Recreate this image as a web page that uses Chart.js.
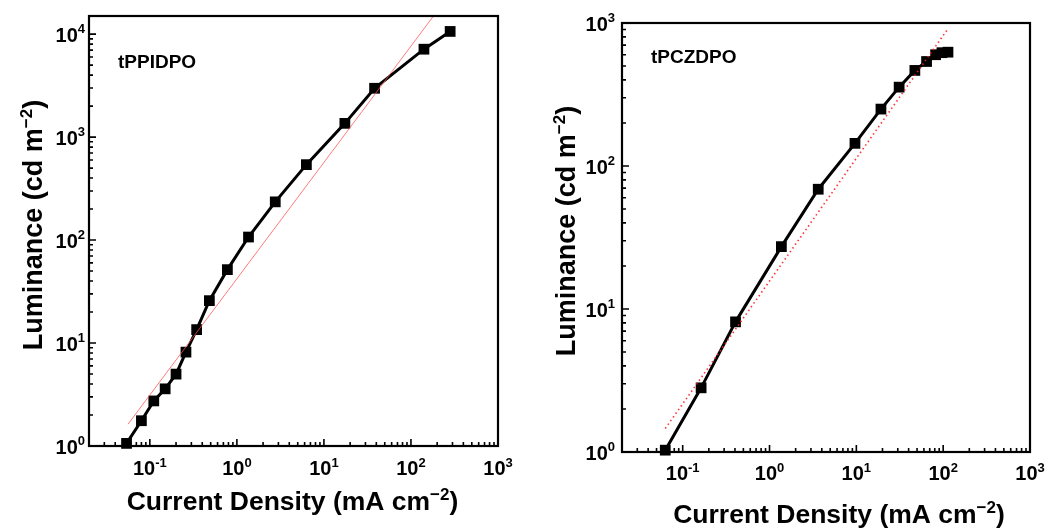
<!DOCTYPE html>
<html>
<head>
<meta charset="utf-8">
<script src="https://cdn.jsdelivr.net/npm/chart.js@4.4.1/dist/chart.umd.min.js"></script>
<style>
  html, body { margin: 0; padding: 0; background: #fff; }
  .panel { position: absolute; top: 0; height: 530px; }
</style>
</head>
<body>
<div class="panel" style="left:0;width:524px"><canvas id="cPPI" width="524" height="530"></canvas></div>
<div class="panel" style="left:524px;width:523px"><canvas id="cPCZ" width="523" height="530"></canvas></div>
<script>
// Current density (mA cm^-2) and luminance (cd m^-2) for each device
const densityPPI   = [0.054, 0.080, 0.111, 0.150, 0.200, 0.260, 0.345, 0.483, 0.778, 1.36, 2.76, 6.29, 17.4, 38.2, 141, 282];
const luminancePPI = [1.06, 1.76, 2.74, 3.59, 4.99, 8.16, 13.5, 25.8, 51.6, 107, 235, 540, 1360, 2980, 7140, 10620];
const densityPCZ   = [0.063, 0.163, 0.406, 1.37, 3.64, 9.64, 19.2, 31.1, 47.2, 64.4, 81.8, 96.8, 113.6];
const luminancePCZ = [1.03, 2.81, 8.13, 27.3, 68.8, 144, 250, 356, 466, 538, 600, 620, 625];

// Power-law guide lines (end points)
const fitDensityPPI   = [0.0562, 181.5];
const fitLuminancePPI = [1.63, 15000];
const fitDensityPCZ   = [0.063, 113];
const fitLuminancePCZ = [1.46, 908];

// Decade exponents used as tick labels
const xTickExps    = [-1, 0, 1, 2, 3];
const yTickExpsPPI = [0, 1, 2, 3, 4];
const yTickExpsPCZ = [0, 1, 2, 3];

const deviceNames = ['tPPIDPO', 'tPCZDPO'];
const xTitle = ['Current Density (mA cm', '\u22122', ')'];
const yTitle = ['Luminance (cd m', '\u22122', ')'];

const FONT = '"Liberation Sans", Arial, sans-serif';

function pts(xs, ys) { return xs.map((x, i) => ({ x: x, y: ys[i] })); }

function drawPow(ctx, base, exp, x, y, align, bf, sf, raise) {
  ctx.font = bf; const wb = ctx.measureText(base).width;
  ctx.font = sf; const we = ctx.measureText(exp).width;
  const tot = wb + we;
  let sx = align === 'center' ? x - tot / 2 : (align === 'right' ? x - tot : x);
  ctx.textAlign = 'left'; ctx.textBaseline = 'alphabetic';
  ctx.font = bf; ctx.fillText(base, sx, y);
  ctx.font = sf; ctx.fillText(exp, sx + wb, y - raise);
}

function drawTitle(ctx, parts, cx, y, bf, sf, raise) {
  ctx.font = bf; const w1 = ctx.measureText(parts[0]).width; const w3 = ctx.measureText(parts[2]).width;
  ctx.font = sf; const w2 = ctx.measureText(parts[1]).width;
  let sx = cx - (w1 + w2 + w3) / 2;
  ctx.textAlign = 'left'; ctx.textBaseline = 'alphabetic';
  ctx.font = bf; ctx.fillText(parts[0], sx, y);
  ctx.font = sf; ctx.fillText(parts[1], sx + w1, y - raise);
  ctx.font = bf; ctx.fillText(parts[2], sx + w1 + w2, y);
}

function minorValues(min, max) {
  const out = [];
  for (let e = Math.floor(Math.log10(min)); e <= Math.ceil(Math.log10(max)); e++) {
    for (let m = 2; m <= 9; m++) {
      const v = m * Math.pow(10, e);
      if (v > min && v < max) out.push(v);
    }
  }
  return out;
}

function framePlugin(cfg) {
  return {
    id: 'frameAxes',
    afterDraw(chart) {
      const ctx = chart.ctx, a = chart.chartArea;
      const xs = chart.scales.x, ys = chart.scales.y;
      ctx.save();
      ctx.fillStyle = '#000'; ctx.strokeStyle = '#000';
      // ticks (inward, bottom and left only)
      ctx.lineWidth = 1.6;
      ctx.beginPath();
      cfg.xExps.forEach(e => { const px = xs.getPixelForValue(Math.pow(10, e)); ctx.moveTo(px, a.bottom); ctx.lineTo(px, a.bottom - 7); });
      minorValues(xs.min, xs.max).forEach(v => { const px = xs.getPixelForValue(v); ctx.moveTo(px, a.bottom); ctx.lineTo(px, a.bottom - 4); });
      cfg.yExps.forEach(e => { const py = ys.getPixelForValue(Math.pow(10, e)); ctx.moveTo(a.left, py); ctx.lineTo(a.left + 7, py); });
      minorValues(ys.min, ys.max).forEach(v => { const py = ys.getPixelForValue(v); ctx.moveTo(a.left, py); ctx.lineTo(a.left + 4, py); });
      ctx.stroke();
      // frame
      ctx.lineWidth = 2.2;
      ctx.strokeRect(a.left, a.top, a.right - a.left, a.bottom - a.top);
      // tick labels
      const bf = 'bold 20px ' + FONT, sf = 'bold 13px ' + FONT;
      cfg.xExps.forEach(e => drawPow(ctx, '10', String(e), xs.getPixelForValue(Math.pow(10, e)), cfg.xLabelBase, 'center', bf, sf, 8.5));
      cfg.yExps.forEach(e => drawPow(ctx, '10', String(e), a.left - cfg.yLabelGap, ys.getPixelForValue(Math.pow(10, e)) + 7.5, 'right', bf, sf, 8.5));
      // axis titles
      drawTitle(ctx, xTitle, cfg.xTitleX, cfg.xTitleBase, 'bold 26.5px ' + FONT, 'bold 17px ' + FONT, 10);
      ctx.save();
      ctx.translate(cfg.yTitleBase, cfg.yTitleY);
      ctx.rotate(-Math.PI / 2);
      drawTitle(ctx, yTitle, 0, 0, 'bold 27px ' + FONT, 'bold 17px ' + FONT, 10);
      ctx.restore();
      // device name
      ctx.font = 'bold 19px ' + FONT; ctx.textAlign = 'left';
      ctx.fillText(cfg.name, cfg.nameX, cfg.nameY);
      ctx.restore();
    }
  };
}

function makeChart(id, xsData, ysData, fitX, fitY, yMax, fitStyle, pad, cfg) {
  return new Chart(document.getElementById(id), {
    type: 'line',
    data: {
      datasets: [
        {
          data: pts(fitX, fitY),
          borderColor: fitStyle.color, borderWidth: fitStyle.width, borderDash: fitStyle.dash,
          pointRadius: 0, order: 1, clip: 0
        },
        {
          data: pts(xsData, ysData),
          borderColor: '#000', borderWidth: 3, tension: 0,
          pointStyle: 'rect', pointRadius: 7.6, pointBackgroundColor: '#000', pointBorderWidth: 0,
          order: 2, clip: false
        }
      ]
    },
    options: {
      responsive: false, animation: false, devicePixelRatio: 1,
      layout: { padding: pad },
      plugins: { legend: { display: false }, tooltip: { enabled: false } },
      scales: {
        x: { type: 'logarithmic', min: 0.02, max: 1000, display: false },
        y: { type: 'logarithmic', min: 1, max: yMax, display: false }
      }
    },
    plugins: [framePlugin(cfg)]
  });
}

makeChart('cPPI', densityPPI, luminancePPI, fitDensityPPI, fitLuminancePPI, 15000,
  { color: 'rgba(255,80,80,0.75)', width: 1, dash: [] },
  { left: 89, top: 16, right: 26, bottom: 84 },
  { xExps: xTickExps, yExps: yTickExpsPPI, xLabelBase: 475, yLabelGap: 4,
    xTitleX: 292.5, xTitleBase: 510, yTitleBase: 42, yTitleY: 225,
    name: deviceNames[0], nameX: 118, nameY: 68 });

makeChart('cPCZ', densityPCZ, luminancePCZ, fitDensityPCZ, fitLuminancePCZ, 1000,
  { color: 'rgba(255,30,30,0.9)', width: 1.6, dash: [1.5, 3] },
  { left: 98, top: 23, right: 17, bottom: 78 },
  { xExps: xTickExps, yExps: yTickExpsPCZ, xLabelBase: 480, yLabelGap: 7,
    xTitleX: 315, xTitleBase: 523, yTitleBase: 51, yTitleY: 231,
    name: deviceNames[1], nameX: 127, nameY: 63 });
</script>
</body>
</html>
